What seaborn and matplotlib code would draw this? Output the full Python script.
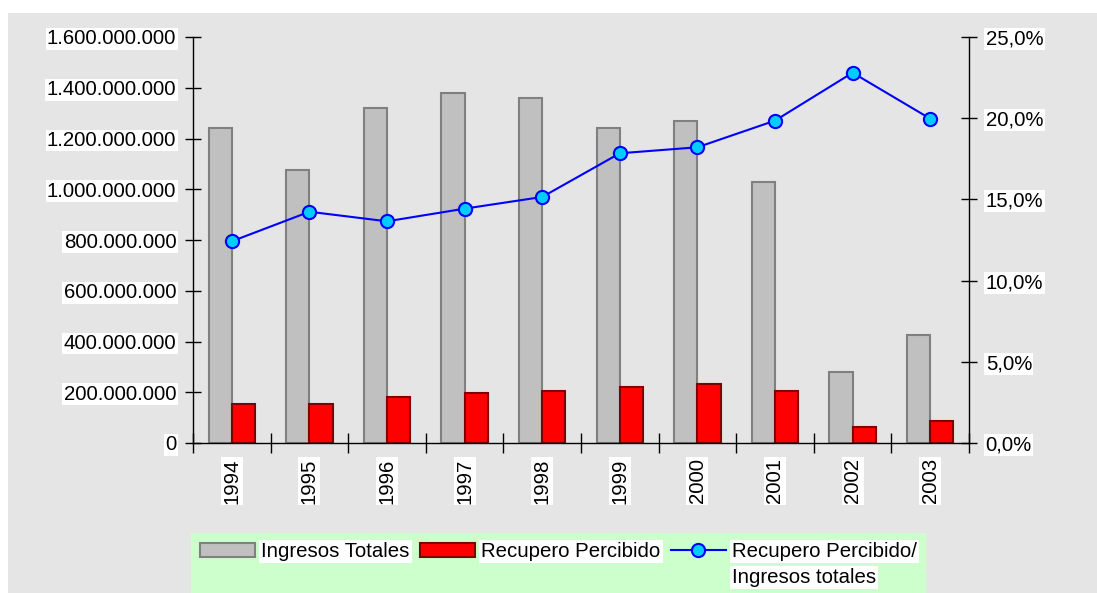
import numpy as np
import pandas as pd
import matplotlib
matplotlib.use("Agg")
import matplotlib.pyplot as plt
import seaborn as sns
from matplotlib.patches import Rectangle
from matplotlib.ticker import FuncFormatter, MultipleLocator

# data
years = ["1994", "1995", "1996", "1997", "1998", "1999", "2000", "2001", "2002", "2003"]
ingresos = [1241e6, 1076e6, 1320e6, 1379e6, 1360e6, 1241e6, 1269e6, 1030e6, 280e6, 426e6]
recupero = [154e6, 154e6, 181e6, 196e6, 204e6, 222e6, 231e6, 204e6, 64e6, 85e6]
ratio = [0.1242, 0.1424, 0.1365, 0.1443, 0.1515, 0.1784, 0.1821, 0.1985, 0.2280, 0.1997]

series_names = ["Ingresos Totales", "Recupero Percibido"]
line_label = ["Recupero Percibido/", "Ingresos totales"]

plt.rcParams['font.family'] = ['Liberation Sans', 'DejaVu Sans']
FS = 14.7

df = pd.DataFrame({
    "Año": years * 2,
    "Valor": ingresos + recupero,
    "Serie": [series_names[0]] * len(years) + [series_names[1]] * len(years),
})

W, H = 1097, 593
fig = plt.figure(figsize=(W / 100, H / 100), dpi=100)
fig.patches.append(Rectangle((8 / W, 0), 1, (H - 13) / H, transform=fig.transFigure,
                             facecolor="#e5e5e5", edgecolor="none", zorder=-2))

ax = fig.add_axes([193 / W, 150 / H, 776 / W, 406 / H])
ax.set_facecolor("none")

sns.barplot(data=df, x="Año", y="Valor", hue="Serie", palette=["#c0c0c0", "#ff0000"],
            width=0.6, saturation=1, legend=False, ax=ax)
for cont, ec in zip(ax.containers, ["#808080", "#800000"]):
    for b in cont:
        b.set_edgecolor(ec)
        b.set_linewidth(1.5)

ax2 = ax.twinx()
sns.lineplot(x=np.arange(len(years)), y=ratio, ax=ax2, color="#0000ff", lw=1.5,
             marker="o", markersize=9.5, markerfacecolor="#00ccff",
             markeredgecolor="#0000ff", markeredgewidth=1.5)

# axes
ax.set_xlim(-0.5, len(years) - 0.5)
ax2.set_xlim(-0.5, len(years) - 0.5)
ax.set_ylim(0, 1.6e9)
ax2.set_ylim(0, 0.25)
ax.yaxis.set_major_locator(MultipleLocator(2e8))
ax2.yaxis.set_major_locator(MultipleLocator(0.05))
ax.yaxis.set_major_formatter(FuncFormatter(lambda v, p: f"{int(round(v)):,}".replace(",", ".")))
ax2.yaxis.set_major_formatter(FuncFormatter(lambda v, p: f"{v * 100:.1f}%".replace(".", ",")))

ax.set_xticks(range(len(years)))
ax.set_xticks(np.arange(-0.5, len(years), 1), minor=True)
ax.tick_params(axis="x", which="major", length=0, pad=11, labelrotation=90, labelsize=FS)
ax.tick_params(axis="x", which="minor", direction="inout", length=14, width=1)
ax.tick_params(axis="y", direction="inout", length=12, width=1, pad=6, labelsize=FS)
ax2.tick_params(axis="y", direction="inout", length=12, width=1, pad=6, labelsize=FS)
ax.set_xlabel("")
ax.set_ylabel("")
ax2.set_ylabel("")

for s in ["top", "right"]:
    ax.spines[s].set_visible(False)
for s in ["top", "left", "bottom"]:
    ax2.spines[s].set_visible(False)
for sp in [ax.spines["left"], ax.spines["bottom"], ax2.spines["right"]]:
    sp.set_color("black")
    sp.set_linewidth(1)

# legend (second line of the last label added below it, as in the original)
handles = [ax.containers[0][0], ax.containers[1][0], ax2.lines[0]]
leg = fig.legend(handles, series_names + [line_label[0]], loc="upper left",
                 bbox_to_anchor=(191 / W, 1 - 533 / H), ncol=3, frameon=False,
                 fontsize=FS, handlelength=2.7, handletextpad=0.3, columnspacing=0.5,
                 borderpad=0.45, borderaxespad=0)
for t in leg.get_texts():
    t.set_bbox(dict(facecolor="white", edgecolor="none", pad=1.5))

fig.canvas.draw()
for a in [ax, ax2]:
    for lbl in a.get_xticklabels() + a.get_yticklabels():
        lbl.set_bbox(dict(facecolor="white", edgecolor="none", pad=1))

lb = leg.get_window_extent()
fig.patches.append(Rectangle((lb.x0 / W, 0), lb.width / W, lb.y1 / H, transform=fig.transFigure,
                             facecolor="#ccffcc", edgecolor="none", zorder=-1))
tb = leg.get_texts()[2].get_window_extent()
fig.text(tb.x0 / W, (tb.y0 + tb.y1) / 2 / H - 26 / H, line_label[1], fontsize=FS,
         va="center", ha="left", bbox=dict(facecolor="white", edgecolor="none", pad=1.5))

fig.savefig("out.png", dpi=100)
